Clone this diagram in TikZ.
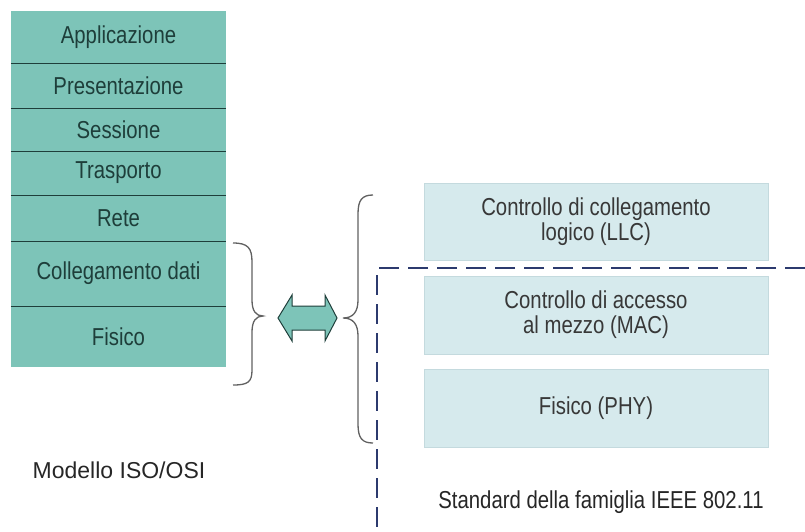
\documentclass[tikz,border=0pt]{standalone}
\usepackage{fontspec}
\setmainfont{Liberation Sans}
\newfontfamily\narrowfont[FakeStretch=0.83]{Liberation Sans}
\definecolor{ositeal}{RGB}{125,196,184}
\definecolor{osiline}{RGB}{30,62,58}
\definecolor{macfill}{RGB}{214,234,237}
\definecolor{macedge}{RGB}{196,218,222}
\definecolor{dashblue}{RGB}{44,58,110}
\tikzset{
    layer/.style={fill=ositeal, text=osiline, minimum width=215pt, inner sep=0pt,
        font=\narrowfont\fontsize{24.5}{25}\selectfont},
    divider/.style={draw=osiline, line width=1.3pt},
    sublayer/.style={fill=macfill, draw=macedge, line width=0.8pt, text=black!78,
        minimum width=344pt, inner sep=0pt, align=center,
        font=\narrowfont\fontsize{24.5}{25}\selectfont},
    curly/.style={draw=black!62, line width=1.3pt},
    caption/.style={text=black!85, anchor=base, font=\fontsize{23}{26}\selectfont}
}
\begin{document}
\begin{tikzpicture}[x=1pt,y=-1pt]
                \useasboundingbox (0,0) rectangle (805,531);
                \foreach \n/\t/\a/\b in {app/Applicazione/11/63, pres/Presentazione/63/108,
                    sess/Sessione/108/151, tra/Trasporto/151/195, rete/Rete/195/241,
                    coll/Collegamento dati/241/306, fis/Fisico/306/367}
                    \node[layer, minimum height={(\b-\a)*1pt}] (\n) at (118.5,{(\a+\b)/2}) {\t};
                \foreach \n in {app,pres,sess,tra,rete,coll}
                    \draw[divider] (\n.south west) -- (\n.south east);
                \node[caption] (osi) at (119,478) {Modello ISO/OSI};
                \draw[curly] (233,243) .. controls (248,243) and (252,248) .. (252,262) -- (252,300)
                    .. controls (252,311) and (256,316) .. (263,316)
                    .. controls (256,316) and (252,321) .. (252,332) -- (252,370)
                    .. controls (252,382) and (248,385) .. (233,385);
                \draw[fill=ositeal, draw=osiline, line width=1pt] (278,318) -- (292,295) -- (292,306) -- (325,306)
                    -- (325,295) -- (337,318) -- (325,341) -- (325,330) -- (292,330) -- (292,341) -- cycle;
                \draw[curly] (373,195) .. controls (362,195) and (358,200) .. (358,214) -- (358,300)
                    .. controls (358,312) and (353,318) .. (343,318)
                    .. controls (353,318) and (358,324) .. (358,336) -- (358,424)
                    .. controls (358,438) and (362,443) .. (373,443);
                \node[sublayer, minimum height=77pt] (llc) at (596,221.5) {Controllo di collegamento\\logico (LLC)};
                \node[sublayer, minimum height=78pt] (mac) at (596,315) {Controllo di accesso\\al mezzo (MAC)};
                \node[sublayer, minimum height=78pt] (phy) at (596,408) {Fisico (PHY)};
                \coordinate (corner) at (377,268);
                \draw[dashblue, line width=1.4pt, dash pattern=on 20pt off 9pt] (805,268) -- (corner) -- (377,531);
                \node[caption, font=\narrowfont\fontsize{24.5}{25}\selectfont] (ieee) at (601,508) {Standard della famiglia IEEE 802.11};
            \end{tikzpicture}
\end{document}
